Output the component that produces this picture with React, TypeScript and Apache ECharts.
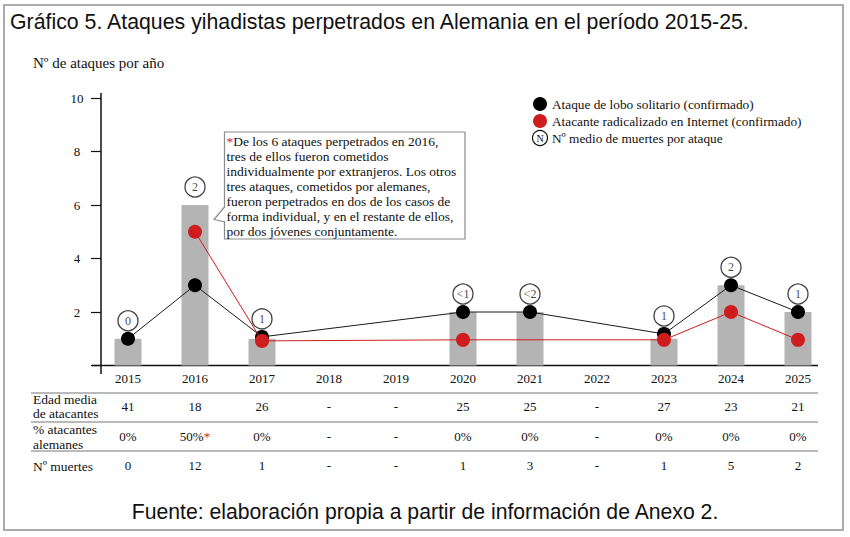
import React, { useEffect, useRef } from 'react';
import * as echarts from 'echarts';

// Years on the horizontal axis
const years = ['2015', '2016', '2017', '2018', '2019', '2020', '2021', '2022', '2023', '2024', '2025'];
// Total attacks per year (bars)
const attacks = [1, 6, 1, null, null, 2, 2, null, 1, 3, 2];
// Lone-wolf attacks (black markers)
const loneWolf = [1, 3, 1.07, null, null, 2, 2, null, 1.18, 3, 2];
// Attackers radicalised online (red markers)
const onlineRadicalized = [null, 5, 0.92, null, null, 0.96, null, null, 0.96, 2, 0.96];
// Average deaths per attack (circled labels)
const avgDeaths = ['0', '2', '1', '', '', '<1', '<2', '', '1', '2', '1'];
// Table rows
const meanAge = ['41', '18', '26', '-', '-', '25', '25', '-', '27', '23', '21'];
const germanShare = ['0%', '50%*', '0%', '-', '-', '0%', '0%', '-', '0%', '0%', '0%'];
const deaths = ['0', '12', '1', '-', '-', '1', '3', '-', '1', '5', '2'];

const noteLines = [
  'De los 6 ataques perpetrados en 2016,',
  'tres de ellos fueron cometidos',
  'individualmente por extranjeros. Los otros',
  'tres ataques, cometidos por alemanes,',
  'fueron perpetrados en dos de los casos de',
  'forma individual, y en el restante de ellos,',
  'por dos jóvenes conjuntamente.',
];

const SERIF = '"Liberation Serif", "Times New Roman", serif';
const SANS = '"Liberation Sans", Arial, sans-serif';
const RED = '#cf1d1d';
const INK = '#111';

const GRID_LEFT = 94.5;
const GRID_TOP = 98;
const GRID_W = 737;
const GRID_H = 267.5;
const AXIS_X = 101;
const AXIS_Y = GRID_TOP + GRID_H;

export default function App() {
  const ref = useRef<HTMLDivElement>(null);

  useEffect(() => {
    if (!ref.current) return;
    const chart = echarts.init(ref.current, undefined, { renderer: 'svg' });

    const circles = avgDeaths
      .map((t, i) => ({ t, i }))
      .filter((d) => d.t !== '')
      .map((d) => ({
        name: d.t,
        value: [d.i, Math.max(attacks[d.i] ?? 0, loneWolf[d.i] ?? 0)],
      }));

    const tableAxis = (offset: number, row: string[]) => ({
      type: 'category',
      data: years,
      position: 'bottom',
      offset,
      axisLine: { show: false },
      axisTick: { show: false },
      axisLabel: {
        margin: 5,
        interval: 0,
        fontFamily: SERIF,
        fontSize: 13,
        color: INK,
        formatter: (_v: string, idx: number) => {
          const s = row[idx];
          return s.endsWith('*') ? `{t|${s.slice(0, -1)}}{r|*}` : s;
        },
        rich: {
          t: { fontFamily: SERIF, fontSize: 13, color: INK },
          r: { fontFamily: SERIF, fontSize: 13, color: RED },
        },
      },
    });

    const rowLabel = (x: number, y: number, text: string) => ({
      type: 'text',
      x,
      y,
      style: {
        text,
        fontFamily: SERIF,
        fontSize: 13.5,
        lineHeight: 14.5,
        fill: INK,
        verticalAlign: 'middle',
      },
    });

    const hLine = (y: number) => ({
      type: 'line',
      shape: { x1: 31, y1: y, x2: 818, y2: y },
      style: { stroke: '#a3a3a3', lineWidth: 1.5 },
    });

    const legendText = (y: number, text: string) => ({
      type: 'text',
      x: 552,
      y,
      style: { text, fontFamily: SERIF, fontSize: 13.3, fill: INK, verticalAlign: 'middle' },
    });

    const option: any = {
      animation: false,
      backgroundColor: '#fff',
      grid: {
        left: GRID_LEFT,
        top: GRID_TOP,
        width: GRID_W,
        height: GRID_H,
        containLabel: false,
        outerBoundsMode: 'none',
      },
      xAxis: [
        {
          type: 'category',
          data: years,
          axisLine: { show: false },
          axisTick: { show: false },
          axisLabel: { margin: 6, interval: 0, fontFamily: SERIF, fontSize: 13, color: INK },
        },
        tableAxis(29, meanAge),
        tableAxis(59.5, germanShare),
        tableAxis(88.5, deaths),
      ],
      yAxis: {
        type: 'value',
        min: 0,
        max: 10,
        interval: 2,
        offset: GRID_LEFT - AXIS_X,
        axisLine: { show: false },
        axisTick: { show: true, length: 10, lineStyle: { color: INK, width: 1.2 } },
        splitLine: { show: false },
        axisLabel: {
          margin: 24,
          align: 'center',
          fontFamily: SERIF,
          fontSize: 13,
          color: INK,
          formatter: (v: number) => (v === 0 ? '' : String(v)),
        },
      },
      series: [
        {
          type: 'bar',
          data: attacks,
          barWidth: 27,
          itemStyle: { color: '#b4b4b4' },
          z: 1,
        },
        {
          type: 'line',
          data: loneWolf,
          connectNulls: true,
          symbol: 'circle',
          symbolSize: 14,
          itemStyle: { color: '#000' },
          lineStyle: { color: '#1a1a1a', width: 1 },
          z: 3,
        },
        {
          type: 'line',
          data: onlineRadicalized,
          connectNulls: true,
          symbol: 'circle',
          symbolSize: 14,
          itemStyle: { color: RED },
          lineStyle: { color: RED, width: 1 },
          z: 4,
        },
        {
          type: 'scatter',
          data: circles,
          symbol: 'circle',
          symbolSize: 20,
          symbolOffset: [0, -18],
          itemStyle: { color: '#fff', borderColor: INK, borderWidth: 1.3 },
          label: {
            show: true,
            position: 'inside',
            formatter: '{b}',
            fontFamily: SERIF,
            fontSize: 12,
            color: INK,
          },
          emphasis: { disabled: true },
          z: 5,
        },
      ],
      graphic: [
        // outer frame
        {
          type: 'rect',
          shape: { x: 4, y: 5, width: 839, height: 525 },
          style: { fill: 'none', stroke: '#ababab', lineWidth: 2 },
          silent: true,
        },
        {
          type: 'text',
          x: 10,
          y: 22,
          style: {
            text: 'Gráfico 5. Ataques yihadistas perpetrados en Alemania en el período 2015-25.',
            fontFamily: SANS,
            fontSize: 21.3,
            fill: INK,
            verticalAlign: 'middle',
          },
        },
        {
          type: 'text',
          x: 33,
          y: 63,
          style: {
            text: 'Nº de ataques por año',
            fontFamily: SERIF,
            fontSize: 15,
            fill: INK,
            verticalAlign: 'middle',
          },
        },
        // axis lines
        {
          type: 'line',
          shape: { x1: 92, y1: AXIS_Y, x2: 818, y2: AXIS_Y },
          style: { stroke: INK, lineWidth: 1.5 },
        },
        {
          type: 'line',
          shape: { x1: AXIS_X, y1: 93, x2: AXIS_X, y2: 374 },
          style: { stroke: INK, lineWidth: 1.5 },
        },
        // table grid lines and row headers
        hLine(393),
        hLine(422),
        hLine(451),
        rowLabel(33, 406.5, 'Edad media\nde atacantes'),
        rowLabel(33, 437, '% atacantes\nalemanes'),
        rowLabel(33, 466, 'Nº muertes'),
        // legend
        { type: 'circle', shape: { cx: 540, cy: 104, r: 7 }, style: { fill: '#000' } },
        legendText(104, 'Ataque de lobo solitario (confirmado)'),
        { type: 'circle', shape: { cx: 540, cy: 121, r: 7 }, style: { fill: RED } },
        legendText(121, 'Atacante radicalizado en Internet (confirmado)'),
        {
          type: 'circle',
          shape: { cx: 540, cy: 138, r: 7.5 },
          style: { fill: '#fff', stroke: INK, lineWidth: 1.2 },
        },
        {
          type: 'text',
          x: 540,
          y: 138.5,
          style: {
            text: 'N',
            fontFamily: SERIF,
            fontSize: 10,
            fill: INK,
            align: 'center',
            verticalAlign: 'middle',
          },
        },
        legendText(138, 'Nº medio de muertes por ataque'),
        // callout note
        {
          type: 'rect',
          shape: { x: 224.5, y: 132, width: 240.5, height: 107 },
          style: { fill: '#fff', stroke: '#8c8c8c', lineWidth: 1.2 },
        },
        {
          type: 'line',
          shape: { x1: 224.5, y1: 208, x2: 224.5, y2: 221 },
          style: { stroke: '#fff', lineWidth: 3 },
        },
        {
          type: 'polyline',
          shape: { points: [[224.5, 207], [214, 219.5], [224.5, 222]] },
          style: { fill: 'none', stroke: '#8c8c8c', lineWidth: 1.2 },
        },
        {
          type: 'text',
          x: 226.5,
          y: 133.5,
          style: {
            text: noteLines.map((l, i) => (i === 0 ? `{r|*}{t|${l}}` : `{t|${l}}`)).join('\n'),
            rich: {
              t: { fontFamily: SERIF, fontSize: 13.5, fill: INK, lineHeight: 15.1 },
              r: { fontFamily: SERIF, fontSize: 13.5, fill: RED, lineHeight: 15.1 },
            },
          },
        },
        {
          type: 'text',
          x: 425,
          y: 511,
          style: {
            text: 'Fuente: elaboración propia a partir de información de Anexo 2.',
            fontFamily: SANS,
            fontSize: 21.2,
            fill: INK,
            align: 'center',
            verticalAlign: 'middle',
          },
        },
      ],
    };

    chart.setOption(option);
    return () => chart.dispose();
  }, []);

  return (
    <div
      ref={ref}
      style={{ position: 'fixed', left: 0, top: 0, width: 850, height: 537, background: '#fff' }}
    />
  );
}
